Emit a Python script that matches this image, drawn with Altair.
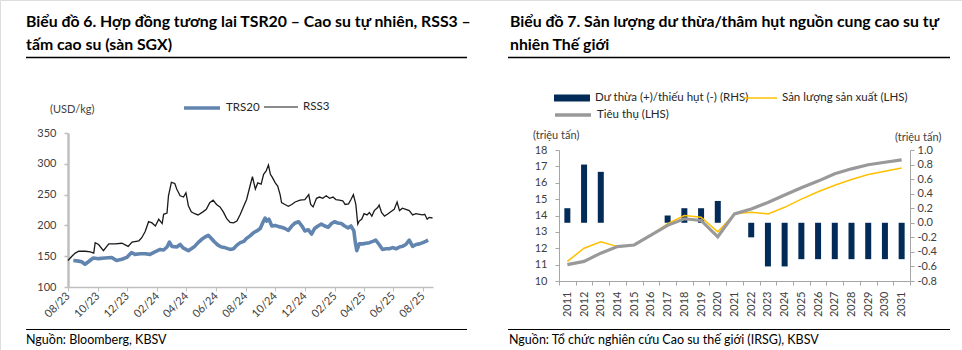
import altair as alt
import pandas as pd

FONT = "Lato"
W, H = 962, 350

# ---------------- data: left chart (SGX futures, USD/kg) ----------------
rss3_dates = [
    "2023-08-01", "2023-08-09", "2023-08-16", "2023-08-23", "2023-09-06", "2023-09-16",
    "2023-09-23", "2023-09-26", "2023-10-03", "2023-10-13", "2023-10-24", "2023-11-06",
    "2023-11-20", "2023-12-03", "2023-12-11", "2023-12-25", "2023-12-31", "2024-01-07",
    "2024-01-14", "2024-01-21", "2024-01-28", "2024-02-04", "2024-02-11", "2024-02-14",
    "2024-02-21", "2024-02-24", "2024-03-01", "2024-03-08", "2024-03-12", "2024-03-19",
    "2024-03-26", "2024-03-31", "2024-04-05", "2024-04-11", "2024-04-18", "2024-04-25",
    "2024-05-05", "2024-05-12", "2024-05-19", "2024-05-26", "2024-06-02", "2024-06-09",
    "2024-06-16", "2024-06-23", "2024-06-30", "2024-07-07", "2024-07-14", "2024-07-21",
    "2024-07-28", "2024-08-03", "2024-08-10", "2024-08-15", "2024-08-21", "2024-08-26",
    "2024-09-02", "2024-09-07", "2024-09-12", "2024-09-17", "2024-09-21", "2024-09-25",
    "2024-10-01", "2024-10-06", "2024-10-11", "2024-10-14", "2024-10-21", "2024-10-28",
    "2024-11-04", "2024-11-11", "2024-11-21", "2024-12-01", "2024-12-09", "2024-12-13",
    "2024-12-18", "2024-12-25", "2024-12-31", "2025-01-07", "2025-01-14", "2025-01-21",
    "2025-01-28", "2025-02-03", "2025-02-10", "2025-02-17", "2025-02-22", "2025-03-01",
    "2025-03-06", "2025-03-11", "2025-03-16", "2025-03-20", "2025-03-23", "2025-03-28",
    "2025-04-02", "2025-04-08", "2025-04-13", "2025-04-18", "2025-04-23", "2025-04-30",
    "2025-05-03", "2025-05-08", "2025-05-14", "2025-05-20", "2025-05-27", "2025-06-03",
    "2025-06-09", "2025-06-14", "2025-06-20", "2025-06-27", "2025-07-04", "2025-07-11",
    "2025-07-18", "2025-07-25", "2025-08-01", "2025-08-05", "2025-08-10", "2025-08-14",
    "2025-08-21",
]
rss3_values = [
    143, 150, 155, 158, 158, 157,
    155, 172, 169, 159, 170, 170,
    171, 166, 173, 175, 180, 190,
    206, 204, 199, 210, 203, 218,
    220, 248, 270, 268, 259, 248,
    246, 253, 232, 222, 219, 217,
    222, 226, 237, 241, 234, 230,
    222, 211, 205, 204, 207, 218,
    231, 242, 264, 279, 259, 269,
    267, 283, 288, 298, 283, 278,
    269, 264, 250, 237, 234, 231,
    234, 238, 241, 242, 250, 234,
    230, 244, 246, 244, 248, 244,
    246, 242, 241, 240, 234, 235,
    242, 250, 234, 202, 207, 210,
    219, 217, 221, 215, 224, 229,
    233, 221, 215, 218, 222, 226,
    238, 224, 228, 226, 224, 217,
    219, 218, 217, 218, 210, 213,
    212,
]

trs20_dates = [
    "2023-08-12", "2023-08-23", "2023-08-29", "2023-09-05", "2023-09-12", "2023-09-22",
    "2023-10-03", "2023-10-16", "2023-10-30", "2023-11-09", "2023-11-20", "2023-11-30",
    "2023-12-10", "2023-12-17", "2023-12-28", "2024-01-07", "2024-01-17", "2024-01-27",
    "2024-02-07", "2024-02-14", "2024-02-21", "2024-02-26", "2024-03-02", "2024-03-12",
    "2024-03-19", "2024-03-26", "2024-04-05", "2024-04-11", "2024-04-18", "2024-04-25",
    "2024-05-02", "2024-05-09", "2024-05-16", "2024-05-21", "2024-05-29", "2024-06-05",
    "2024-06-12", "2024-06-19", "2024-06-30", "2024-07-07", "2024-07-14", "2024-07-21",
    "2024-07-28", "2024-08-03", "2024-08-10", "2024-08-17", "2024-08-24", "2024-08-31",
    "2024-09-05", "2024-09-10", "2024-09-13", "2024-09-18", "2024-09-24", "2024-10-01",
    "2024-10-08", "2024-10-14", "2024-10-21", "2024-10-28", "2024-11-04", "2024-11-11",
    "2024-11-18", "2024-11-25", "2024-12-01", "2024-12-08", "2024-12-15", "2024-12-21",
    "2024-12-28", "2025-01-04", "2025-01-11", "2025-01-18", "2025-01-25", "2025-01-31",
    "2025-02-07", "2025-02-14", "2025-02-21", "2025-02-28", "2025-03-06", "2025-03-12",
    "2025-03-15", "2025-03-18", "2025-03-23", "2025-03-30", "2025-04-06", "2025-04-13",
    "2025-04-20", "2025-04-26", "2025-05-03", "2025-05-10", "2025-05-17", "2025-05-24",
    "2025-05-31", "2025-06-07", "2025-06-14", "2025-06-20", "2025-06-27", "2025-07-04",
    "2025-07-11", "2025-07-18", "2025-07-25", "2025-08-01", "2025-08-07", "2025-08-12",
]
trs20_values = [
    143, 142, 141, 137, 141, 147,
    146, 147, 148, 143, 145, 148,
    156, 153, 154, 154, 153, 157,
    161, 160, 165, 173, 166, 165,
    169, 163, 159, 162, 166, 172,
    177, 181, 184, 180, 173, 168,
    165, 164, 161, 162, 168, 172,
    174, 179, 183, 188, 191, 195,
    204, 212, 207, 210, 199, 200,
    198, 197, 195, 192, 199, 204,
    206, 199, 191, 193, 186, 195,
    199, 202, 199, 197, 203, 206,
    204, 203, 199, 196, 199, 191,
    172, 159, 170, 170, 171, 172,
    174, 176, 169, 161, 162, 162,
    164, 162, 165, 166, 169, 176,
    166, 169, 170, 172, 174, 176,
]
left_y_ticks = [100, 150, 200, 250, 300, 350]
left_x_ticks = [(2023, 8), (2023, 10), (2023, 12), (2024, 2), (2024, 4), (2024, 6), (2024, 8),
                (2024, 10), (2024, 12), (2025, 2), (2025, 4), (2025, 6), (2025, 8)]

# ---------------- data: right chart (world natural rubber) ----------------
years = [str(y) for y in range(2011, 2032)]
surplus = [0.2, 0.8, 0.7, 0.0, 0.0, 0.0, 0.1, 0.2, 0.2, 0.3, 0.0,
           -0.2, -0.6, -0.6, -0.5, -0.5, -0.5, -0.5, -0.5, -0.5, -0.5]
production = [11.2, 12.0, 12.4, 12.1, 12.2, 12.8, 13.5, 14.0, 13.9, 13.0, 14.1,
              14.2, 14.1, 14.5, 15.0, 15.45, 15.85, 16.2, 16.5, 16.7, 16.9]
consumption = [11.0, 11.2, 11.7, 12.1, 12.2, 12.8, 13.4, 13.8, 13.7, 12.7, 14.1,
               14.4, 14.8, 15.25, 15.7, 16.1, 16.55, 16.85, 17.1, 17.25, 17.4]
lhs_ticks = [10, 11, 12, 13, 14, 15, 16, 17, 18]
rhs_ticks = [-0.8, -0.6, -0.4, -0.2, 0.0, 0.2, 0.4, 0.6, 0.8, 1.0]

S_BAR = "Dư thừa (+)/thiếu hụt (-) (RHS)"
S_PROD = "Sản lượng sản xuất (LHS)"
S_CONS = "Tiêu thụ (LHS)"

df_rss3 = pd.DataFrame({"date": rss3_dates, "value": rss3_values, "series": "RSS3"})
df_trs20 = pd.DataFrame({"date": trs20_dates, "value": trs20_values, "series": "TRS20"})
df_bar = pd.DataFrame({"year": years, "value": surplus, "series": S_BAR})
df_prod = pd.DataFrame({"year": years, "value": production, "series": S_PROD})
df_cons = pd.DataFrame({"year": years, "value": consumption, "series": S_CONS})

AXC = "#bfbfbf"
LBL = "#404040"

def dt(y, m, d=1):
    return alt.DateTime(year=y, month=m, date=d, utc=True)

x_left = alt.Scale(type="utc", domain=[dt(2023, 8, 1), dt(2025, 8, 22)], range=[68, 433])
y_left = alt.Scale(domain=[100, 350], range=[287, 133], nice=False, zero=False)
x_right = alt.Scale(domain=years, range=[559, 910], paddingInner=0, paddingOuter=0)
y_lhs = alt.Scale(domain=[10, 18], range=[281, 150], nice=False, zero=False)
y_rhs = alt.Scale(domain=[-0.8, 1.0], range=[281, 150], nice=False)

def legend(x, y, stype, size, swidth=None):
    kw = dict(orient="none", legendX=x, legendY=y, title=None, symbolType=stype,
              symbolSize=size, labelFont=FONT, labelFontSize=11.5, labelColor="#262626",
              labelOffset=4, padding=0)
    if swidth is not None:
        kw["symbolStrokeWidth"] = swidth
    return alt.Legend(**kw)

# ---- left chart layers ----
trs = alt.Chart(df_trs20).mark_line(strokeWidth=3.6, strokeJoin="round").encode(
    x=alt.X("date:T", scale=x_left, axis=alt.Axis(
        orient="bottom", offset=-63, values=[dt(y, m) for y, m in left_x_ticks], format="%m/%y",
        labelAngle=315, labelAlign="right", labelBaseline="middle", labelPadding=3,
        labelFlush=False, labelOverlap=False, labelFont=FONT, labelFontSize=11, labelColor=LBL,
        domainColor=AXC, domainWidth=1.5, tickColor=AXC, tickSize=4, tickWidth=1, grid=False, title=None)),
    y=alt.Y("value:Q", scale=y_left, axis=alt.Axis(
        orient="left", offset=-68, values=left_y_ticks, labelPadding=8, labelFont=FONT,
        labelFontSize=11, labelColor=LBL, domainColor=AXC, domainWidth=2.5, tickColor=AXC,
        tickSize=4, tickWidth=1.5, grid=False, title=None)),
    color=alt.Color("series:N", scale=alt.Scale(domain=["TRS20"], range=["#6285b0"]),
                    legend=legend(182, 88, "stroke", 36 * 36, 3.5)),
)
rss = alt.Chart(df_rss3).mark_line(strokeWidth=1.3).encode(
    x=alt.X("date:T", scale=x_left, axis=None),
    y=alt.Y("value:Q", scale=y_left, axis=None),
    color=alt.Color("series:N", scale=alt.Scale(domain=["RSS3"], range=["#1a1a1a"]),
                    legend=legend(263, 89, "stroke", 34 * 34, 1.2)),
)

# ---- right chart layers ----
bars = alt.Chart(df_bar).mark_bar(size=6).encode(
    x=alt.X("year:N", scale=x_right, axis=alt.Axis(
        orient="bottom", offset=-69, labelAngle=270, labelAlign="right", labelBaseline="middle",
        labelPadding=6, labelFont=FONT, labelFontSize=11, labelColor=LBL, tickBand="extent",
        domainColor="#a6a6a6", domainWidth=1.2, tickColor="#a6a6a6", tickSize=4, grid=False, title=None)),
    y=alt.Y("value:Q", scale=y_rhs, axis=alt.Axis(
        orient="right", offset=-52, values=rhs_ticks,
        labelExpr="replace(format(datum.value, '.1f'), '\u2212', '-')",
        labelPadding=3, labelFont=FONT, labelFontSize=11, labelColor=LBL,
        domainColor="#a6a6a6", tickColor="#a6a6a6", tickSize=4, grid=False, title=None)),
    color=alt.Color("series:N", scale=alt.Scale(domain=[S_BAR], range=["#032b57"]),
                    legend=legend(553, 79, "M-1,-0.19H1V0.19H-1Z", 36 * 36)),
)
prod = alt.Chart(df_prod).mark_line(strokeWidth=1.5).encode(
    x=alt.X("year:N", scale=x_right, axis=None),
    y=alt.Y("value:Q", scale=y_lhs, axis=alt.Axis(
        orient="left", offset=-559, values=lhs_ticks, labelPadding=8, labelFont=FONT,
        labelFontSize=11, labelColor=LBL, domainColor="#a6a6a6", tickColor="#a6a6a6",
        tickSize=4, grid=False, title=None)),
    color=alt.Color("series:N", scale=alt.Scale(domain=[S_PROD], range=["#ffc000"]),
                    legend=legend(742, 80, "stroke", 34 * 34, 1.5)),
)
cons = alt.Chart(df_cons).mark_line(strokeWidth=3.2).encode(
    x=alt.X("year:N", scale=x_right, axis=None),
    y=alt.Y("value:Q", scale=y_lhs, axis=None),
    color=alt.Color("series:N", scale=alt.Scale(domain=[S_CONS], range=["#999999"]),
                    legend=legend(553, 95, "stroke", 36 * 36, 3.5)),
)

# ---- text & decoration ----
def text(t, x, y, size=11.5, weight="normal", baseline="alphabetic", align="left", color="#262626"):
    return alt.Chart(pd.DataFrame({"t": [t]})).mark_text(
        font=FONT, fontSize=size, fontWeight=weight, baseline=baseline, align=align, color=color
    ).encode(x=alt.value(x), y=alt.value(y), text="t:N")

def hrule(x1, x2, y, w=1.3):
    return alt.Chart(pd.DataFrame({"a": [0]})).mark_rule(color="#000000", strokeWidth=w).encode(
        x=alt.value(x1), x2=alt.value(x2), y=alt.value(y))

TS = 15.8
decor = [
    text("Biểu đồ 6. Hợp đồng tương lai TSR20 – Cao su tự nhiên, RSS3 –", 26, 27, TS, "bold", color="#000000"),
    text("tấm cao su (sàn SGX)", 26, 49.5, TS, "bold", color="#000000"),
    hrule(26, 467, 57.5),
    text("Nguồn: Bloomberg, KBSV", 26, 343.5, 12.5, color="#000000"),
    hrule(26, 467, 329.5, 1.0),
    text("(USD/kg)", 50, 113, 11, color=LBL),
    text("Biểu đồ 7. Sản lượng dư thừa/thâm hụt nguồn cung cao su tự", 510, 27, TS, "bold", color="#000000"),
    text("nhiên Thế giới", 510, 49.5, TS, "bold", color="#000000"),
    hrule(508, 950, 57.5),
    text("Nguồn: Tổ chức nghiên cứu Cao su thế giới (IRSG), KBSV", 509, 343.5, 12.5, color="#000000"),
    hrule(508, 950, 329.5, 1.0),
    text("(triệu tấn)", 533, 139, 11, color=LBL),
    text("(triệu tấn)", 895, 141, 11, color=LBL),
]

chart = alt.layer(trs, rss, bars, prod, cons, *decor).resolve_scale(
    x="independent", y="independent", color="independent"
).properties(
    width=W, height=H, padding=0, autosize=alt.AutoSizeParams(type="none"), background="white"
).configure_view(stroke=None).configure(font=FONT)

chart.save("out.html", embed_options={"renderer": "svg", "actions": False})
